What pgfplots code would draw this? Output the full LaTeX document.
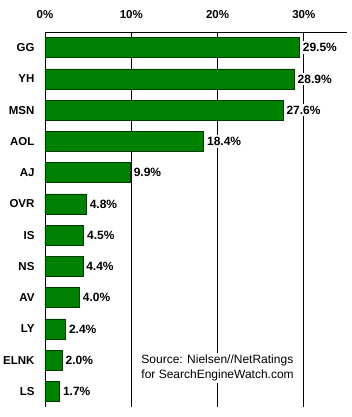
\documentclass[border=0pt]{standalone}
\usepackage{pgfplots}
\pgfplotsset{compat=1.18}
\usepackage{fontspec}
\setmainfont{Liberation Sans}
\definecolor{barfill}{RGB}{0,128,0}
\definecolor{barline}{RGB}{0,60,0}
\begin{document}
\begin{tikzpicture}
\begin{axis}[
  name=ax,
  scale only axis,
  width=302pt, height=375pt,
  xbar, bar width=20pt,
  xmin=0, xmax=35,
  ymin=-0.5, ymax=11.5,
  y dir=reverse,
  axis x line=top, axis y line=left,
  axis line style={-, black, line width=0.8pt},
  xtick={0,10,20,30},
  xticklabel={\pgfmathprintnumber{\tick}\%},
  xticklabel style={font=\fontsize{11.5}{13}\selectfont\bfseries, yshift=10pt},
  /pgf/number format/assume math mode=true,
  ytick={0,...,11},
  yticklabels={GG,YH,MSN,AOL,AJ,OVR,IS,NS,AV,LY,ELNK,LS},
  yticklabel style={font=\fontsize{11.5}{13}\selectfont\bfseries, xshift=-7pt},
  major tick length=0pt,
  xmajorgrids, grid style={black, line width=0.8pt},
  nodes near coords={\pgfmathprintnumber[fixed,fixed zerofill,precision=1]{\pgfplotspointmeta}\%},
  nodes near coords style={font=\fontsize{12}{13}\selectfont\bfseries, anchor=west, fill=white, inner xsep=1pt, inner ysep=2pt, xshift=2pt},
  point meta=x,
]
\addplot[fill=barfill, draw=barline, line width=0.7pt] coordinates {
(29.5,0) (28.9,1) (27.6,2) (18.4,3) (9.9,4) (4.8,5) (4.5,6) (4.4,7) (4.0,8) (2.4,9) (2.0,10) (1.7,11)};
\node[fill=white, align=left, font=\fontsize{12}{15.5}\selectfont, inner sep=2pt] at (axis cs:20,10.25) {Source: Nielsen//NetRatings\\for SearchEngineWatch.com};
\end{axis}
\pgfresetboundingbox
\path (ax.south west) ++(-45pt,-10pt) rectangle ([shift={(4pt,32pt)}]ax.north east);
\end{tikzpicture}
\end{document}
